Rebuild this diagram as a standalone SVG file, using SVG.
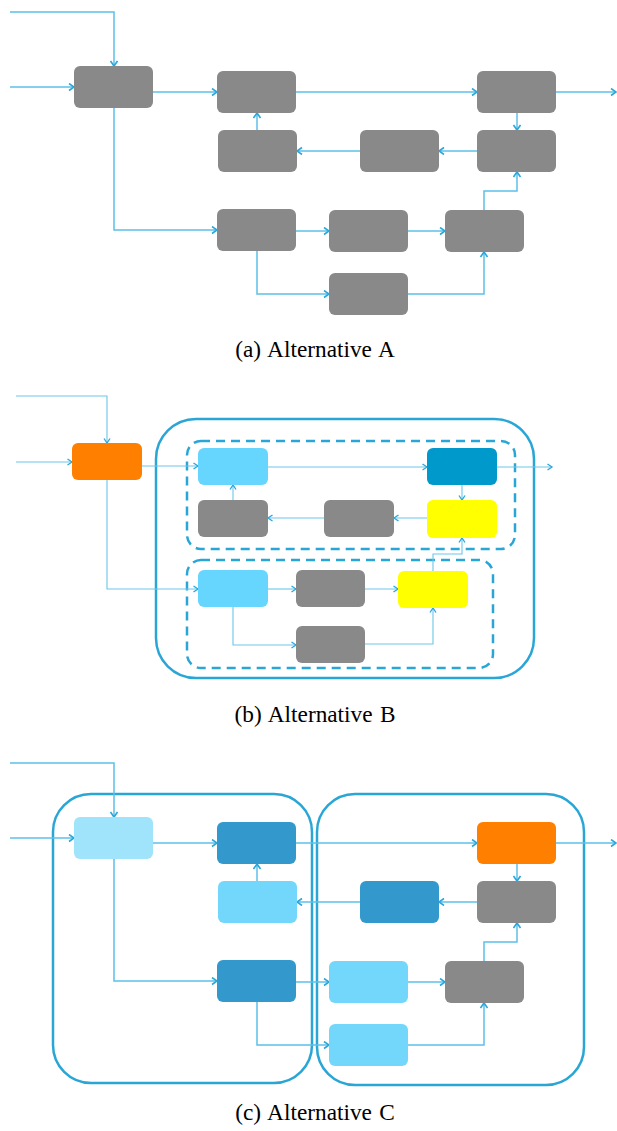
<svg xmlns="http://www.w3.org/2000/svg" width="617" height="1131" viewBox="0 0 617 1131">
<style>
.bg{fill:#ffffff}
.n{stroke:none}
.gray{fill:#898989}
.orange{fill:#ff7f00}
.lb{fill:#66d6ff}
.lb2{fill:#73d7fc}
.pale{fill:#a0e4fc}
.db{fill:#0099cc}
.db2{fill:#3399cc}
.yel{fill:#ffff00}
.c{fill:none;stroke:#5bc0e8;stroke-width:1.5;marker-end:url(#ah)}
.cb{fill:none;stroke:#6cc6ea;stroke-width:1.1;marker-end:url(#ah2)}
.box{fill:none;stroke:#2aa6d6;stroke-width:2.5}
.dash{fill:none;stroke:#2aa6d6;stroke-width:2.5;stroke-dasharray:9 6}
.cap{font-family:"Liberation Serif","Times New Roman",serif;font-size:23.3px;word-spacing:1.5px;fill:#000;text-anchor:middle}
</style>
<defs>
<marker id="ah" markerUnits="userSpaceOnUse" markerWidth="10" markerHeight="10" refX="6" refY="4" orient="auto">
<path d="M1,0.5 L6,4 L1,7.5" fill="none" stroke="#2aa6d9" stroke-width="1.6"/>
</marker>
<marker id="ah2" markerUnits="userSpaceOnUse" markerWidth="10" markerHeight="10" refX="6" refY="4" orient="auto">
<path d="M1.5,1 L6,4 L1.5,7" fill="none" stroke="#2aa6d9" stroke-width="1.3"/>
</marker>
</defs>
<rect class="bg" x="0" y="0" width="617" height="1131"/>

<!-- Panel A -->
<g id="connectors-a">
<path class="c" d="M10,12 H114 V66"/>
<path class="c" d="M10,87 H74"/>
<path class="c" d="M153,92 H217"/>
<path class="c" d="M257,130 V113"/>
<path class="c" d="M114,108 V230 H217"/>
<path class="c" d="M296,92 H477"/>
<path class="c" d="M556,92 H616"/>
<path class="c" d="M517,113 V130"/>
<path class="c" d="M477,151 H439"/>
<path class="c" d="M360,151 H297"/>
<path class="c" d="M296,231 H329"/>
<path class="c" d="M408,231 H445"/>
<path class="c" d="M484,210 V191 H517 V172"/>
<path class="c" d="M257,251 V294 H329"/>
<path class="c" d="M408,294 H484 V252"/>
</g>
<g id="a1"><rect class="n gray" x="74" y="66" width="79" height="42" rx="6"/></g>
<g id="a2"><rect class="n gray" x="217" y="71" width="79" height="42" rx="6"/></g>
<g id="a3"><rect class="n gray" x="218" y="130" width="79" height="42" rx="6"/></g>
<g id="a4"><rect class="n gray" x="217" y="209" width="79" height="42" rx="6"/></g>
<g id="a5"><rect class="n gray" x="477" y="71" width="79" height="42" rx="6"/></g>
<g id="a6"><rect class="n gray" x="477" y="130" width="79" height="42" rx="6"/></g>
<g id="a7"><rect class="n gray" x="360" y="130" width="79" height="42" rx="6"/></g>
<g id="a8"><rect class="n gray" x="329" y="210" width="79" height="42" rx="6"/></g>
<g id="a9"><rect class="n gray" x="445" y="210" width="79" height="42" rx="6"/></g>
<g id="a10"><rect class="n gray" x="329" y="273" width="79" height="42" rx="6"/></g>
<text class="cap" x="315" y="357">(a) Alternative A</text>

<!-- Panel B -->
<g id="container-b">
<rect class="box" x="156" y="419" width="378" height="259" rx="40"/>
<rect class="dash" x="187" y="441" width="328" height="108" rx="14"/>
<rect class="dash" x="187" y="560" width="306" height="108" rx="14"/>
</g>
<g id="connectors-b">
<path class="cb" d="M16,396 H107 V443"/>
<path class="cb" d="M16,462 H72"/>
<path class="cb" d="M142,466 H198"/>
<path class="cb" d="M233,500 V485"/>
<path class="cb" d="M107,480 V589 H198"/>
<path class="cb" d="M268,467 H427"/>
<path class="cb" d="M497,467 H552"/>
<path class="cb" d="M462,485 V500"/>
<path class="cb" d="M427,518 H394"/>
<path class="cb" d="M324,518 H268"/>
<path class="cb" d="M268,589 H296"/>
<path class="cb" d="M365,589 H398"/>
<path class="cb" d="M433,571 V554 H462 V538"/>
<path class="cb" d="M233,607 V645 H296"/>
<path class="cb" d="M365,644 H433 V608"/>
</g>
<g id="b-in"><rect class="n orange" x="72" y="443" width="70" height="37" rx="6"/></g>
<g id="b1"><rect class="n lb" x="198" y="448" width="70" height="37" rx="6"/></g>
<g id="b2"><rect class="n gray" x="198" y="500" width="70" height="37" rx="6"/></g>
<g id="b3"><rect class="n db" x="427" y="448" width="70" height="37" rx="6"/></g>
<g id="b4"><rect class="n lb" x="198" y="570" width="70" height="37" rx="6"/></g>
<g id="b5"><rect class="n gray" x="296" y="570" width="69" height="37" rx="6"/></g>
<g id="b6"><rect class="n gray" x="296" y="626" width="69" height="37" rx="6"/></g>
<g id="b7"><rect class="n yel" x="427" y="500" width="70" height="38" rx="6"/></g>
<g id="b8"><rect class="n gray" x="324" y="500" width="70" height="37" rx="6"/></g>
<g id="b9"><rect class="n yel" x="398" y="571" width="70" height="37" rx="6"/></g>
<text class="cap" x="315" y="722">(b) Alternative B</text>

<!-- Panel C -->
<g id="container-c">
<rect class="box" x="53" y="794" width="259" height="289" rx="38"/>
<rect class="box" x="317" y="794" width="267" height="291" rx="38"/>
</g>
<g id="connectors-c" transform="translate(0,751)">
<path class="c" d="M10,12 H114 V66"/>
<path class="c" d="M10,87 H74"/>
<path class="c" d="M153,92 H217"/>
<path class="c" d="M257,130 V113"/>
<path class="c" d="M114,108 V230 H217"/>
<path class="c" d="M296,92 H477"/>
<path class="c" d="M556,92 H616"/>
<path class="c" d="M517,113 V130"/>
<path class="c" d="M477,151 H439"/>
<path class="c" d="M360,151 H297"/>
<path class="c" d="M296,231 H329"/>
<path class="c" d="M408,231 H445"/>
<path class="c" d="M484,210 V191 H517 V172"/>
<path class="c" d="M257,251 V294 H329"/>
<path class="c" d="M408,294 H484 V252"/>
</g>
<g id="c1"><rect class="n pale" x="74" y="817" width="79" height="42" rx="6"/></g>
<g id="c2"><rect class="n db2" x="217" y="822" width="79" height="42" rx="6"/></g>
<g id="c3"><rect class="n lb2" x="218" y="881" width="79" height="42" rx="6"/></g>
<g id="c4"><rect class="n db2" x="217" y="960" width="79" height="42" rx="6"/></g>
<g id="c5"><rect class="n orange" x="477" y="822" width="79" height="42" rx="6"/></g>
<g id="c6"><rect class="n gray" x="477" y="881" width="79" height="42" rx="6"/></g>
<g id="c7"><rect class="n db2" x="360" y="881" width="79" height="42" rx="6"/></g>
<g id="c8"><rect class="n lb2" x="329" y="961" width="79" height="42" rx="6"/></g>
<g id="c9"><rect class="n gray" x="445" y="961" width="79" height="42" rx="6"/></g>
<g id="c10"><rect class="n lb2" x="329" y="1024" width="79" height="42" rx="6"/></g>
<text class="cap" x="315" y="1120">(c) Alternative C</text>
</svg>
